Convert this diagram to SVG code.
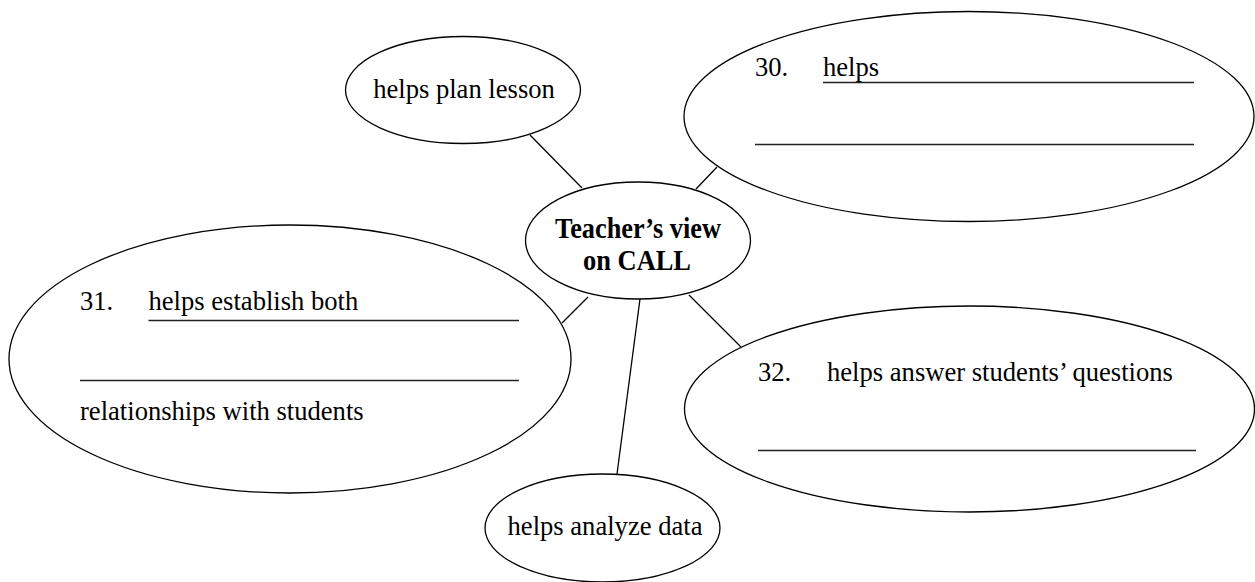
<svg xmlns="http://www.w3.org/2000/svg" width="1255" height="582" viewBox="0 0 1255 582">
<style>
.node{fill:#fff;stroke:#000;stroke-width:1.3}
.conn{stroke:#000;stroke-width:1.3;fill:none}
.ul{stroke:#222;stroke-width:1.5}
text{font-family:"Liberation Serif","Times New Roman",serif;font-size:26.6px;fill:#000}
.c{text-anchor:middle}
.b{font-weight:bold;font-size:28.5px}
</style>
<rect width="1255" height="582" fill="#fff"/>
<g id="connectors">
<line class="conn" x1="530" y1="135" x2="582" y2="188"/>
<line class="conn" x1="717" y1="167" x2="696" y2="189"/>
<line class="conn" x1="588" y1="297" x2="562" y2="323"/>
<line class="conn" x1="640" y1="299" x2="617" y2="474"/>
<line class="conn" x1="689" y1="295" x2="741" y2="347"/>
</g>
<g id="plan">
<ellipse class="node" cx="463" cy="90" rx="117.5" ry="53.5"/>
<text class="c" x="464" y="98">helps plan lesson</text>
</g>
<g id="q30">
<ellipse class="node" cx="969" cy="116.5" rx="285" ry="105"/>
<text x="755" y="76">30.</text>
<text x="823" y="76">helps</text>
<line class="ul" x1="823" y1="82.5" x2="1194" y2="82.5"/>
<line class="ul" x1="755" y1="144.5" x2="1194" y2="144.5"/>
</g>
<g id="center">
<ellipse class="node" cx="638" cy="240.5" rx="112.5" ry="58.5"/>
<text class="c b" x="638" y="238" textLength="166" lengthAdjust="spacingAndGlyphs">Teacher’s view</text>
<text class="c b" x="637" y="270" textLength="108" lengthAdjust="spacingAndGlyphs">on CALL</text>
</g>
<g id="q31">
<ellipse class="node" cx="290" cy="359" rx="281" ry="134"/>
<text x="80" y="310">31.</text>
<text x="148.5" y="310">helps establish both</text>
<line class="ul" x1="148.5" y1="320.5" x2="519" y2="320.5"/>
<line class="ul" x1="80" y1="380.5" x2="519" y2="380.5"/>
<text x="80" y="420">relationships with students</text>
</g>
<g id="q32">
<ellipse class="node" cx="969.5" cy="409" rx="285" ry="103"/>
<text x="758" y="381">32.</text>
<text x="827" y="381">helps answer students’ questions</text>
<line class="ul" x1="758" y1="450.5" x2="1196" y2="450.5"/>
</g>
<g id="analyze">
<ellipse class="node" cx="602.5" cy="528" rx="117.5" ry="54"/>
<text class="c" x="605" y="535">helps analyze data</text>
</g>
</svg>
